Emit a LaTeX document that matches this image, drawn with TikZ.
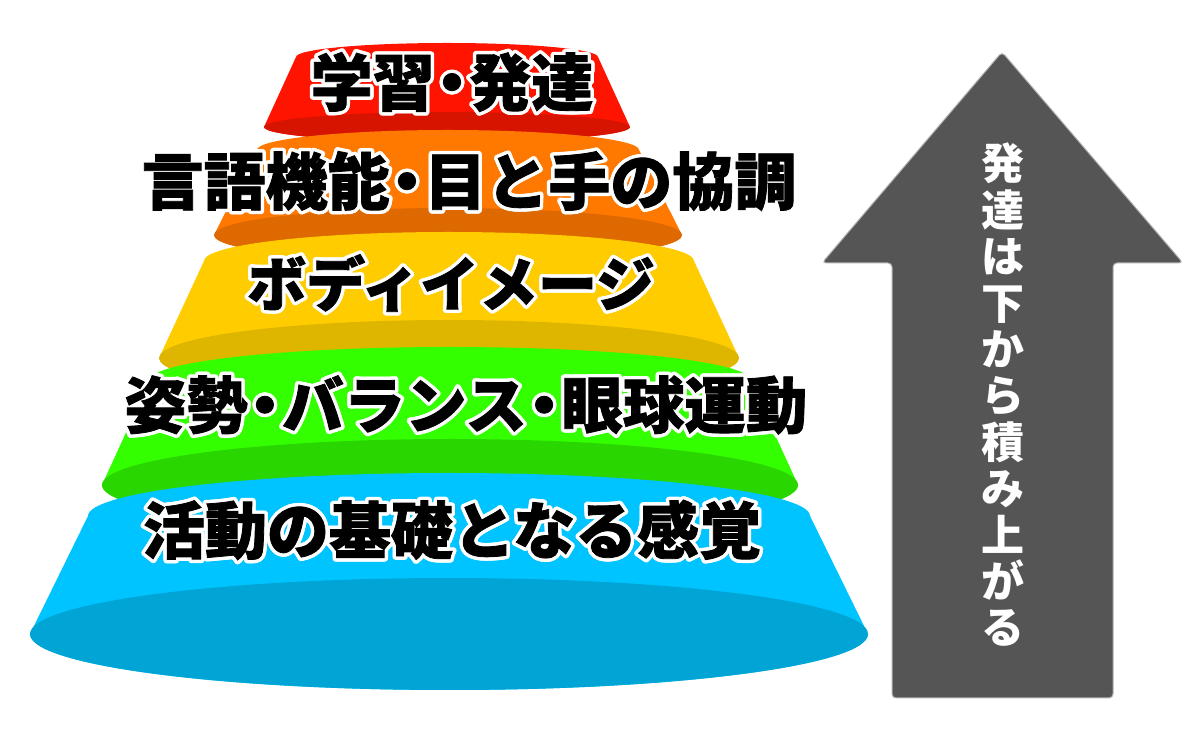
\documentclass[tikz,border=0pt]{standalone}
\usepackage{fontspec}
\newfontfamily\jp{Noto Sans CJK JP}
\newfontfamily\jpheavy{Noto Sans CJK JP}[BoldFeatures={FakeBold=1.3}]
\newfontfamily\jphalo{Noto Sans CJK JP}[BoldFeatures={FakeBold=4}]
\definecolor{redL}{RGB}{255,20,0}
\definecolor{redD}{RGB}{215,20,0}
\definecolor{orL}{RGB}{255,120,0}
\definecolor{orD}{RGB}{222,105,0}
\definecolor{yeL}{RGB}{255,204,0}
\definecolor{yeD}{RGB}{222,182,0}
\definecolor{grL}{RGB}{51,255,0}
\definecolor{grD}{RGB}{42,214,0}
\definecolor{blL}{RGB}{0,196,255}
\definecolor{blD}{RGB}{0,165,214}
\definecolor{arrowgray}{RGB}{85,85,85}
% \layer{cx}{ytop}{rxt}{ryt}{ybot}{rxb}{ryb}{light}{dark}
\newcommand{\layer}[9]{%
  \fill[#8] ({#1-#3},#2) arc[start angle=180,end angle=0,x radius=#3pt,y radius=#4pt]
     -- ({#1+#6},#5) arc[start angle=0,end angle=-180,x radius=#6pt,y radius=#7pt] -- cycle;
  \fill[#9] (#1,#5) ellipse[x radius=#6pt,y radius=#7pt];
}
\newcommand{\dt}{\hspace{-0.22em}・\hspace{-0.22em}}
% \olabel{name}{x,y}{size}{text}
\newcommand{\olabel}[4]{%
  \foreach \a in {0,22.5,...,337.5}{
    \node[halo,shift={(\a:2.6pt)}] at (#2) {\fontsize{#3}{#3}\selectfont #4};
  }
  \node[lbl] (#1) at (#2) {\fontsize{#3}{#3}\selectfont #4};
}
\tikzset{
  lbl/.style={inner sep=0pt,font=\jpheavy\bfseries,text=black},
  halo/.style={inner sep=0pt,font=\jphalo\bfseries,text=white},
  arrowshape/.style={fill=arrowgray,draw=black!30,line width=1pt,rounded corners=4pt},
  arrowtext/.style={inner sep=0pt,text=white,align=center,font=\jp\bfseries\fontsize{43}{46.4}\selectfont}
}
\begin{document}
\begin{tikzpicture}[x=1pt,y=1pt]
\useasboundingbox (0,0) rectangle (1200,750);
\fill[white] (0,0) rectangle (1200,750);
% layers, top first so lower layers overlap
\layer{447}{693}{151}{14}{623}{183}{15}{redL}{redD}
\layer{448}{600}{191}{20}{515}{234}{27}{orL}{orD}
\layer{449}{489}{245}{29}{392}{290}{38}{yeL}{yeD}
\layer{450}{370}{300}{33}{265}{348}{46}{grL}{grD}
\layer{449}{234}{361}{43}{116}{419}{56}{blL}{blD}
% arrow
\draw[arrowshape] (892,52) -- (892,487) -- (822,487) -- (1002,698) -- (1183,487) -- (1113,487) -- (1113,52) -- cycle;
\node[arrowtext] (at) at (1003,355) {発\\達\\は\\下\\か\\ら\\積\\み\\上\\が\\る};
% labels
\olabel{l1}{452,668}{62}{学習\dt 発達}
\olabel{l2}{469,569}{62}{言語機能\dt 目と手の協調}
\olabel{l3}{451,467}{59}{ボディイメージ}
\olabel{l4}{466,345}{61.5}{姿勢\dt バランス\dt 眼球運動}
\olabel{l5}{452,220}{62}{活動の基礎となる感覚}
\end{tikzpicture}
\end{document}
